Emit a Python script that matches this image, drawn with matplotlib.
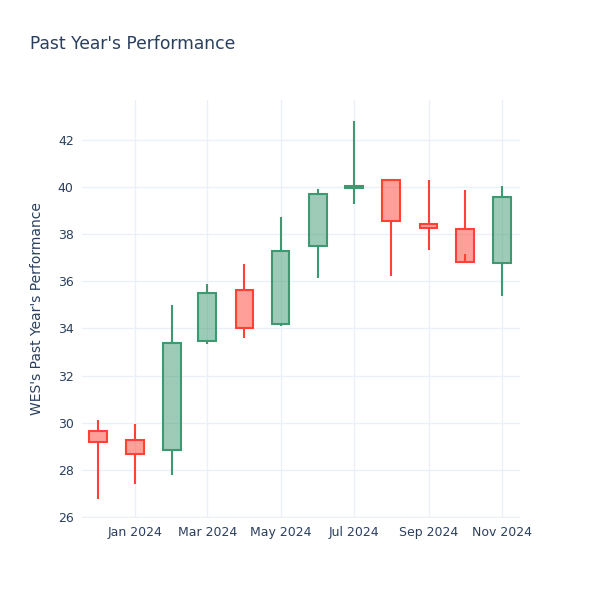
import matplotlib
matplotlib.use("Agg")
import matplotlib.pyplot as plt
import matplotlib.dates as mdates
from matplotlib.patches import Rectangle
import datetime as dt

dates = ["2023-12-01", "2024-01-01", "2024-02-01", "2024-03-01", "2024-04-01", "2024-05-01",
         "2024-06-01", "2024-07-01", "2024-08-01", "2024-09-01", "2024-10-01", "2024-11-01"]
opens = [29.66, 29.26, 28.84, 33.48, 35.61, 34.19, 37.51, 39.97, 40.27, 38.43, 38.22, 36.76]
highs = [30.12, 29.97, 34.98, 35.88, 36.73, 38.74, 39.92, 42.78, 40.31, 40.27, 39.85, 40.05]
lows = [26.76, 27.43, 27.79, 33.34, 33.60, 34.09, 36.12, 39.28, 36.21, 37.31, 37.14, 35.36]
closes = [29.20, 28.67, 33.38, 35.49, 34.03, 37.27, 39.71, 40.02, 38.54, 38.25, 36.80, 39.56]

xtick_dates = ["2024-01-01", "2024-03-01", "2024-05-01", "2024-07-01", "2024-09-01", "2024-11-01"]
xtick_labels = ["Jan 2024", "Mar 2024", "May 2024", "Jul 2024", "Sep 2024", "Nov 2024"]
yticks = [26, 28, 30, 32, 34, 36, 38, 40, 42]

INC = "#3D9970"
DEC = "#FF4136"
TXT = "#2a3f5f"
GRID = "#EBF0F8"

fig = plt.figure(figsize=(6, 6), dpi=100)
ax = fig.add_axes([82 / 600, 1 - 518 / 600, (520 - 82) / 600, (518 - 100) / 600])

xs = [mdates.date2num(dt.date.fromisoformat(d)) for d in dates]
width = 14.8
for x, o, h, l, c in zip(xs, opens, highs, lows, closes):
    col = INC if c >= o else DEC
    top = max(o, c)
    bot = min(o, c)
    ax.plot([x, x], [top, h], color=col, lw=1.5, solid_capstyle="butt", zorder=3)
    ax.plot([x, x], [bot, l], color=col, lw=1.5, solid_capstyle="butt", zorder=3)
    ax.add_patch(Rectangle((x - width / 2, bot), width, max(top - bot, 0.0001),
                           facecolor=col, alpha=0.5, edgecolor="none", zorder=2))
    ax.add_patch(Rectangle((x - width / 2, bot), width, max(top - bot, 0.0001),
                           facecolor="none", edgecolor=col, lw=1.5, zorder=4))

xmin = mdates.date2num(dt.date(2023, 11, 18))
xmax = mdates.date2num(dt.date(2024, 11, 16))
ax.set_xlim(xmin, xmax)
ax.set_ylim(25.97, 43.68)

ax.set_xticks([mdates.date2num(dt.date.fromisoformat(d)) for d in xtick_dates])
ax.set_xticklabels(xtick_labels)
ax.set_yticks(yticks)
ax.set_yticklabels([str(v) for v in yticks])

for s in ax.spines.values():
    s.set_visible(False)
ax.grid(True, color=GRID, lw=1)
ax.set_axisbelow(True)
ax.tick_params(length=0, colors=TXT, labelsize=9, pad=6)

ax.set_ylabel("WES's Past Year's Performance", color=TXT, fontsize=10, labelpad=10)
fig.text(30 / 600, 1 - 44 / 600, "Past Year's Performance", color=TXT, fontsize=12.3, va="center", ha="left")

fig.savefig("out.png", dpi=100, facecolor="white")
